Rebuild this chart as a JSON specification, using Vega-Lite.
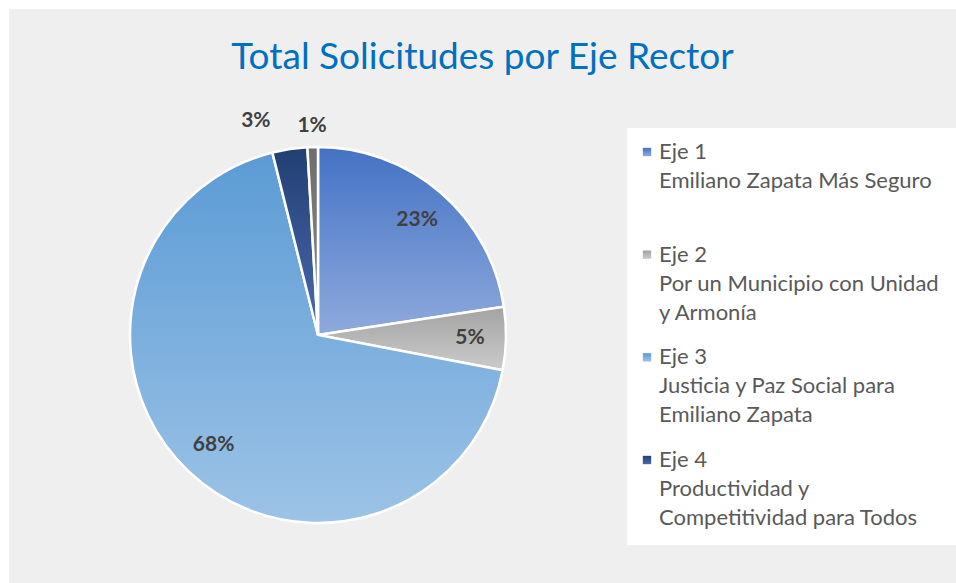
{
  "$schema": "https://vega.github.io/schema/vega-lite/v6.json",
  "background": "white",
  "padding": {"left": 9, "top": 9, "right": 0, "bottom": 0},
  "config": {
    "view": {"fill": "#efefef", "stroke": null},
    "concat": {"spacing": 0},
    "font": "Lato"
  },
  "datasets": {
    "ejes": [
      {"eje": "Eje 1", "share": 0.226, "desc": "Eje 1\nEmiliano Zapata Más Seguro"},
      {"eje": "Eje 2", "share": 0.054, "desc": "Eje 2\nPor un Municipio con Unidad\ny Armonía"},
      {"eje": "Eje 3", "share": 0.681, "desc": "Eje 3\nJusticia y Paz Social para\nEmiliano Zapata"},
      {"eje": "Eje 4", "share": 0.030, "desc": "Eje 4\nProductividad y\nCompetitividad para Todos"},
      {"eje": "Eje 5", "share": 0.009, "desc": "Eje 5"}
    ]
  },
  "spacing": 0,
  "vconcat": [
    {
      "width": 947,
      "height": 78,
      "view": {"fill": "#efefef", "stroke": null},
      "data": {"values": [{"t": "Total Solicitudes por Eje Rector"}]},
      "mark": {"type": "text", "font": "Lato", "fontSize": 37, "color": "#0070c0", "baseline": "middle", "align": "center", "dy": 10},
      "encoding": {"text": {"field": "t", "type": "nominal"}}
    },
    {
      "spacing": 0,
      "hconcat": [
        {
          "width": 618,
          "height": 496,
          "view": {"fill": "#efefef", "stroke": null},
          "data": {"name": "ejes"},
          "encoding": {
            "theta": {"field": "share", "type": "quantitative", "stack": true},
            "order": {"field": "eje", "type": "ordinal", "sort": "ascending"}
          },
          "layer": [
            {
              "mark": {"type": "arc", "outerRadius": 188, "stroke": "white", "strokeWidth": 2.5},
              "encoding": {
                "color": {
                  "field": "eje",
                  "type": "nominal",
                  "legend": null,
                  "scale": {
                    "domain": ["Eje 1", "Eje 2", "Eje 3", "Eje 4", "Eje 5"],
                    "range": [
                      {"expr": "{'gradient': 'linear', 'x1': 0, 'y1': 0, 'x2': 0, 'y2': 1, 'stops': [{'offset': 0, 'color': '#4472c4'}, {'offset': 1, 'color': '#8faadc'}]}"},
                      {"expr": "{'gradient': 'linear', 'x1': 0, 'y1': 0, 'x2': 0, 'y2': 1, 'stops': [{'offset': 0, 'color': '#a3a3a3'}, {'offset': 1, 'color': '#cbcbcb'}]}"},
                      {"expr": "{'gradient': 'linear', 'x1': 0, 'y1': 0, 'x2': 0, 'y2': 1, 'stops': [{'offset': 0, 'color': '#5b9bd5'}, {'offset': 1, 'color': '#9dc3e6'}]}"},
                      {"expr": "{'gradient': 'linear', 'x1': 0, 'y1': 0, 'x2': 0, 'y2': 1, 'stops': [{'offset': 0, 'color': '#223f73'}, {'offset': 1, 'color': '#4a6aae'}]}"},
                      {"expr": "{'gradient': 'linear', 'x1': 0, 'y1': 0, 'x2': 0, 'y2': 1, 'stops': [{'offset': 0, 'color': '#6e6e6e'}, {'offset': 1, 'color': '#8a8a8a'}]}"}
                    ]
                  }
                }
              }
            },
            {
              "mark": {"type": "text", "font": "Lato", "fontSize": 21, "fontWeight": "bold", "align": "center", "baseline": "middle", "color": "#404040", "radius": 152},
              "encoding": {
                "text": {"condition": {"test": "datum.share < 0.04", "value": ""}, "field": "share", "type": "quantitative", "format": ".0%"}
              }
            },
            {
              "mark": {"type": "text", "font": "Lato", "fontSize": 21, "fontWeight": "bold", "align": "center", "baseline": "middle", "color": "#404040", "radius": 214, "dx": -30, "dy": -2},
              "encoding": {
                "text": {"condition": {"test": "datum.eje !== 'Eje 4'", "value": ""}, "field": "share", "type": "quantitative", "format": ".0%"}
              }
            },
            {
              "mark": {"type": "text", "font": "Lato", "fontSize": 21, "fontWeight": "bold", "align": "center", "baseline": "middle", "color": "#404040", "radius": 209},
              "encoding": {
                "text": {"condition": {"test": "datum.eje !== 'Eje 5'", "value": ""}, "field": "share", "type": "quantitative", "format": ".0%"}
              }
            }
          ]
        },
        {
          "spacing": 0,
          "vconcat": [
            {
              "width": 329,
              "height": 41,
              "view": {"fill": "#efefef", "stroke": null},
              "data": {"values": [{}]},
              "mark": {"type": "text", "text": ""}
            },
            {
              "width": 329,
              "height": 417,
              "view": {"fill": "white", "stroke": null},
              "data": {"name": "ejes"},
              "transform": [{"filter": "datum.eje !== 'Eje 5'"}],
              "encoding": {
                "y": {"field": "eje", "type": "nominal", "axis": null, "scale": {"type": "point", "padding": 0, "range": [31, 339]}}
              },
              "layer": [
                {
                  "mark": {"type": "point", "shape": "square", "filled": true, "size": 70, "opacity": 1},
                  "encoding": {
                    "x": {"value": 20},
                    "yOffset": {"value": -7},
                    "color": {
                      "field": "eje",
                      "type": "nominal",
                      "legend": null,
                      "scale": {
                        "domain": ["Eje 1", "Eje 2", "Eje 3", "Eje 4", "Eje 5"],
                        "range": ["#5b82d0", "#b5b5b5", "#7db1e0", "#2f4f8f", "#7f7f7f"]
                      }
                    }
                  }
                },
                {
                  "mark": {"type": "text", "font": "Lato", "fontSize": 22, "color": "#595959", "align": "left", "baseline": "alphabetic", "lineBreak": "\n", "lineHeight": 29},
                  "encoding": {
                    "x": {"value": 32},
                    "text": {"field": "desc", "type": "nominal"}
                  }
                }
              ]
            },
            {
              "width": 329,
              "height": 38,
              "view": {"fill": "#efefef", "stroke": null},
              "data": {"values": [{}]},
              "mark": {"type": "text", "text": ""}
            }
          ]
        }
      ]
    }
  ],
  "resolve": {"scale": {"color": "independent"}}
}
